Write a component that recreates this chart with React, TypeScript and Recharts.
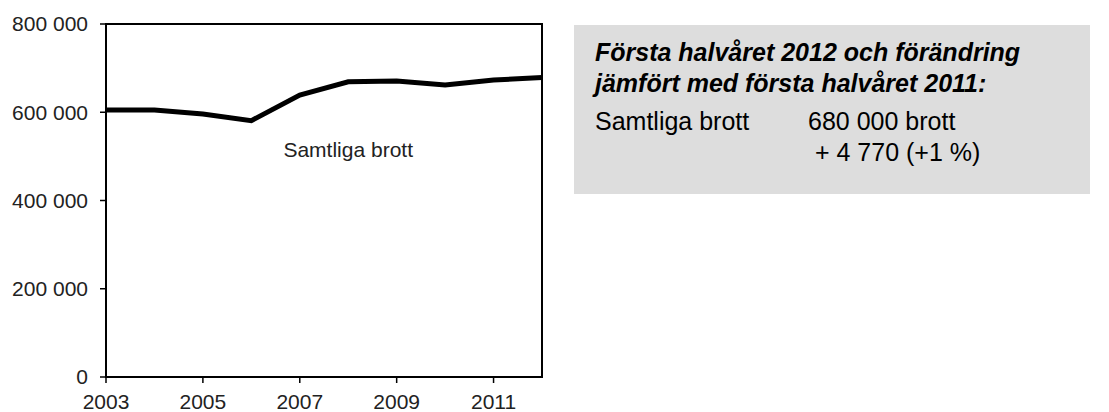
import React from "react"
import {
  Line,
  LineChart,
  ReferenceArea,
  ReferenceDot,
  XAxis,
  YAxis,
} from "recharts"

const years = [2003, 2004, 2005, 2006, 2007, 2008, 2009, 2010, 2011, 2012]
const totalCrimes = [605000, 605000, 596000, 581000, 639000, 669000, 671000, 662000, 673000, 679000]
const xTicks = [2003, 2005, 2007, 2009, 2011]
const yTicks = [0, 200000, 400000, 600000, 800000]

const seriesLabel = "Samtliga brott"
const boxTitle = ["Första halvåret 2012 och förändring", "jämfört med första halvåret 2011:"]
const boxValue = "680 000 brott"
const boxChange = "+ 4 770 (+1 %)"

const FONT = "'Liberation Sans', Arial, sans-serif"

const data = years.map((year, i) => ({ year, total: totalCrimes[i] }))

// thousands with a space, like "800 000"
const fmt = (v: number) => v.toString().replace(/\B(?=(\d{3})+(?!\d))/g, " ")

export default function App() {
  const tickStyle = { fontSize: 21, fill: "#222", fontFamily: FONT }
  return (
    <div
      style={{
        position: "absolute",
        left: 0,
        top: 0,
        width: 1109,
        height: 412,
        background: "#fff",
        fontFamily: FONT,
      }}
    >
      <LineChart
        width={560}
        height={412}
        data={data}
        margin={{ top: 24, right: 18, left: 0, bottom: 0 }}
      >
        <XAxis
          dataKey="year"
          type="number"
          domain={[2003, 2012]}
          ticks={xTicks}
          height={35}
          tickSize={6}
          tickMargin={11}
          axisLine={{ stroke: "#000", strokeWidth: 2 }}
          tickLine={{ stroke: "#000", strokeWidth: 1.5 }}
          tick={tickStyle}
          interval={0}
        />
        <YAxis
          domain={[0, 800000]}
          ticks={yTicks}
          width={106}
          tickSize={6}
          tickMargin={12}
          tickFormatter={fmt}
          axisLine={{ stroke: "#000", strokeWidth: 2 }}
          tickLine={{ stroke: "#000", strokeWidth: 1.5 }}
          tick={tickStyle}
          interval={0}
        />
        {/* frame round the plot area */}
        <ReferenceArea
          x1={2003}
          x2={2012}
          y1={0}
          y2={800000}
          stroke="#000"
          strokeWidth={2}
          fill="none"
          fillOpacity={0}
          ifOverflow="visible"
        />
        <Line
          dataKey="total"
          stroke="#000"
          strokeWidth={5}
          dot={false}
          isAnimationActive={false}
        />
        <ReferenceDot
          x={2008}
          y={515000}
          r={0}
          ifOverflow="visible"
          label={{ value: seriesLabel, position: "center", fontSize: 21, fill: "#222", fontFamily: FONT }}
        />
      </LineChart>
      <div
        style={{
          position: "absolute",
          left: 574,
          top: 25,
          width: 516,
          height: 169,
          background: "#dddddd",
          color: "#000",
        }}
      >
        <div
          style={{
            position: "absolute",
            left: 21,
            top: 12,
            fontSize: 25,
            fontWeight: "bold",
            fontStyle: "italic",
            lineHeight: "31px",
            whiteSpace: "nowrap",
          }}
        >
          {boxTitle.map((t) => (
            <div key={t}>{t}</div>
          ))}
        </div>
        <div style={{ position: "absolute", left: 21, top: 81, fontSize: 25, lineHeight: "31px", whiteSpace: "nowrap" }}>
          {seriesLabel}
        </div>
        <div style={{ position: "absolute", left: 234, top: 81, fontSize: 25, lineHeight: "31px", whiteSpace: "pre" }}>
          {boxValue}
          {"\n "}
          {boxChange}
        </div>
      </div>
    </div>
  )
}
